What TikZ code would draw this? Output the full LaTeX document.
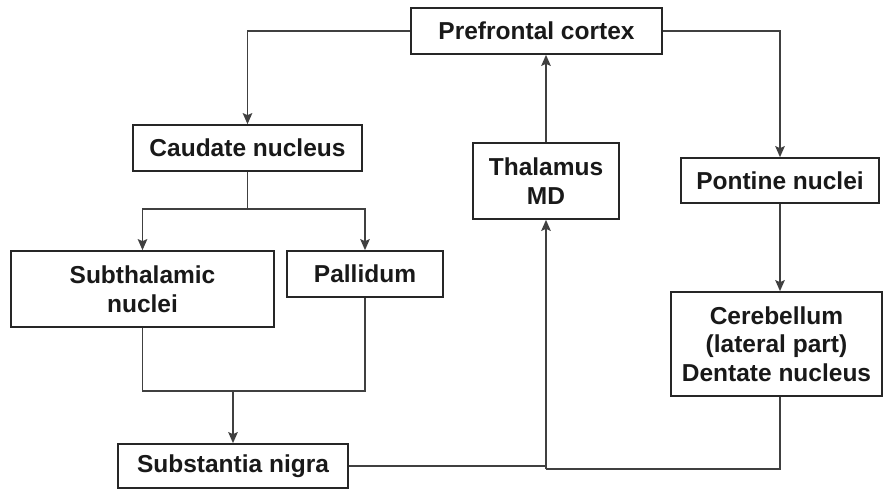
\documentclass[tikz,border=0pt]{standalone}
\usepackage{fontspec}
\setmainfont{Liberation Sans}
\usetikzlibrary{arrows.meta}
\begin{document}
\begin{tikzpicture}[x=1pt,y=-1pt,
  box/.style={draw=black!85,line width=1.7pt,fill=white,inner sep=0pt,align=center,
    font=\fontsize{24.5}{28.5}\selectfont\bfseries,text=black!90},
  conn/.style={draw=black!75,line width=1.7pt},
  arr/.style={conn,-{Stealth[length=11pt,width=9.5pt,inset=2pt]}}]
\useasboundingbox (0,0) rectangle (883,490);
\fill[white] (0,0) rectangle (883,490);
\node[box,minimum width=251pt,minimum height=46pt] (pf) at (536.5,31) {Prefrontal cortex};
\node[box,minimum width=229pt,minimum height=46pt] (cd) at (247.5,148) {Caudate nucleus};
\node[box,minimum width=263pt,minimum height=76pt] (st) at (142.5,289) {Subthalamic\\nuclei};
\node[box,minimum width=156pt,minimum height=46pt] (pal) at (365,274) {Pallidum};
\node[box,minimum width=230pt,minimum height=44pt] (sn) at (233,466) {Substantia nigra};
\node[box,minimum width=146pt,minimum height=76pt] (th) at (546,181) {Thalamus\\MD};
\node[box,minimum width=198pt,minimum height=45pt] (pn) at (780,180.5) {Pontine nuclei};
\node[box,minimum width=211pt,minimum height=104pt] (cb) at (776.5,344) {Cerebellum\\(lateral part)\\Dentate nucleus};
% prefrontal outputs
\draw[arr] (pf.west) -| (cd.north);
\draw[arr] (pf.east) -| (pn.north);
\draw[arr] (th.north) -- (th.north |- pf.south);
% caudate split
\draw[conn] (cd.south) -- (cd.south |- 0,209) coordinate (j1);
\draw[arr] (j1) -| (st.north);
\draw[arr] (j1) -| (pal.north);
% merge to substantia nigra
\coordinate (j2) at (233,391);
\draw[conn] (st.south) |- (j2) -| (pal.south);
\draw[arr] (j2) -- (sn.north);
% pontine to cerebellum
\draw[arr] (pn.south) -- (pn.south |- cb.north);
% return loops to thalamus
\coordinate (j3) at (546,469);
\draw[conn] (sn.east) -- (sn.east -| j3);
\draw[conn] (pn.south |- cb.south) |- (j3);
\draw[arr] (j3) -- (th.south);
\end{tikzpicture}
\end{document}
